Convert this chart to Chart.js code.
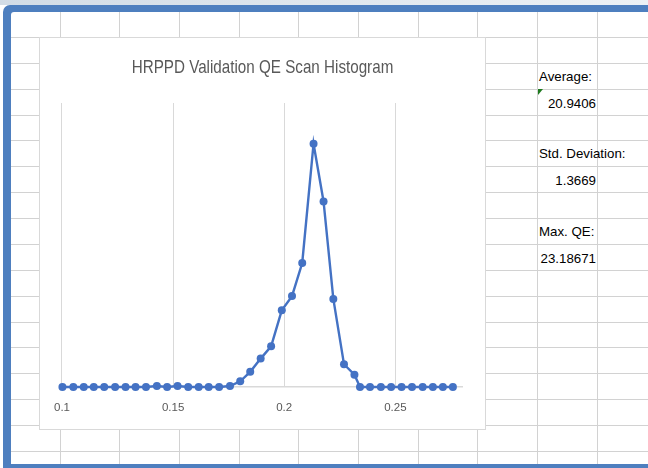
<!DOCTYPE html>
<html>
<head>
<meta charset="utf-8">
<script src="https://cdn.jsdelivr.net/npm/chart.js@4.4.1/dist/chart.umd.min.js"></script>
<style>
    body { margin: 0; width: 648px; height: 468px; overflow: hidden; position: relative; background: #fff; }
    #topStrip { position: absolute; left: 0; top: 0; width: 648px; height: 5px; background: linear-gradient(to right, #d2dce6, #edf1f5); }
    #frame { position: absolute; left: 3px; top: 5px; width: 645px; height: 463px; background: #4e7fbf; border-top-left-radius: 7px; }
    #sheet { position: absolute; left: 11px; top: 12px; width: 637px; height: 452px; background: #fff; border-top-left-radius: 3px; overflow: hidden; }
    .hline { position: absolute; height: 1px; background: #d2d2d2; }
    .vline { position: absolute; width: 1px; background: #d2d2d2; }
    .cell { position: absolute; font-family: "Liberation Sans", Arial, sans-serif; font-size: 13.3px; color: #000; white-space: nowrap; line-height: 26px; height: 26px; }
    .flag { position: absolute; width: 0; height: 0; border-top: 6px solid #1f7a1f; border-right: 5px solid transparent; }
    #chartBox { position: absolute; left: 39px; top: 37px; width: 447px; height: 393px; box-sizing: border-box; border: 1px solid #d9d9d9; background: #fff; }
</style>
</head>
<body>
<div id="topStrip"></div>
<div id="frame"></div>
<div id="sheet"></div>
<div id="chartBox"><canvas id="qeChart"></canvas></div>
<script>
const qeBins = [
    0.1002, 0.1051, 0.1098, 0.1143, 0.1190, 0.1239, 0.1286, 0.1331, 0.1378, 0.1427,
    0.1473, 0.1520, 0.1568, 0.1615, 0.1660, 0.1707, 0.1756, 0.1802, 0.1847, 0.1894,
    0.1941, 0.1989, 0.2035, 0.2081, 0.2132, 0.2177, 0.2221, 0.2269, 0.2316, 0.2341,
    0.2386, 0.2435, 0.2481, 0.2528, 0.2575, 0.2623, 0.2669, 0.2714, 0.2759,
]
const binCounts = [
    0, 0, 0, 0, 0, 0, 0, 0, 0, 1,
    0, 1, 0, 0, 0, 0, 1, 6, 16, 30,
    43, 81, 96, 131, 257, 196, 93, 24, 13, 0,
    0, 0, 0, 0, 0, 0, 0, 0, 0,
]
const xTicks = [0.1, 0.15, 0.2, 0.25]
const chartTitle = 'HRPPD Validation QE Scan Histogram'
const statLabels = ['Average:', 'Std. Deviation:', 'Max. QE:']
const statValues = ['20.9406', '1.3669', '23.18671']

// spreadsheet grid behind the chart
function drawSheet() {
    const sheet = document.getElementById('sheet')
    for (let x = 59.6; x < 648; x += 59.7) {
        const line = document.createElement('div')
        line.className = 'vline'
        line.style.left = Math.round(x - 11) + 'px'
        line.style.top = '0px'
        line.style.height = '452px'
        sheet.appendChild(line)
    }
    for (let y = 36.9; y < 464; y += 25.88) {
        const line = document.createElement('div')
        line.className = 'hline'
        line.style.top = Math.round(y - 12) + 'px'
        line.style.left = '0px'
        line.style.width = '637px'
        sheet.appendChild(line)
    }
    statLabels.forEach((label, i) => {
        const rowTop = 62.8 + i * 3 * 25.88
        const lab = document.createElement('div')
        lab.className = 'cell'
        lab.textContent = label
        lab.style.left = (539 - 11) + 'px'
        lab.style.top = Math.round(rowTop - 12 + 1) + 'px'
        sheet.appendChild(lab)

        const val = document.createElement('div')
        val.className = 'cell'
        val.textContent = statValues[i]
        val.style.right = (637 - (596 - 11)) + 'px'
        val.style.top = Math.round(rowTop + 25.88 - 12 + 2) + 'px'
        sheet.appendChild(val)
    })
    const flag = document.createElement('div')
    flag.className = 'flag'
    flag.style.left = (538 - 11) + 'px'
    flag.style.top = (89 - 12) + 'px'
    sheet.appendChild(flag)
}

// Excel draws the title in a narrow face; squeeze a regular one to match
const narrowTitle = {
    id: 'narrowTitle',
    afterDraw(chart, args, opts) {
        const ctx = chart.ctx
        ctx.save()
        ctx.font = `${opts.size}px ${opts.family}`
        ctx.fillStyle = opts.color
        ctx.textAlign = 'center'
        ctx.textBaseline = 'middle'
        ctx.translate(chart.width / 2, opts.y)
        ctx.scale(opts.squeeze, 1)
        ctx.fillText(opts.text, 0, 0)
        ctx.restore()
    },
}

function drawHistogram() {
    const ctx = document.getElementById('qeChart').getContext('2d')

    new Chart(ctx, {
        type: 'scatter',
        data: {
            datasets: [{
                data: qeBins.map((x, i) => ({ x, y: binCounts[i] })),
                showLine: true,
                borderColor: '#4472c4',
                backgroundColor: '#4472c4',
                borderWidth: 2.4,
                pointRadius: 4,
                pointBorderWidth: 0,
                tension: 0,
                clip: false,
            }],
        },
        plugins: [narrowTitle],
        options: {
            responsive: true,
            maintainAspectRatio: false,
            animation: false,
            layout: { padding: { left: 20, right: 23, top: 65, bottom: 0 } },
            plugins: {
                legend: { display: false },
                tooltip: { enabled: false },
                title: { display: false },
                narrowTitle: {
                    text: chartTitle,
                    color: '#595959',
                    family: '"Liberation Sans", Arial, sans-serif',
                    size: 19,
                    squeeze: 0.8,
                    y: 30,
                },
            },
            scales: {
                x: {
                    type: 'linear',
                    min: 0.1,
                    max: 0.28,
                    afterBuildTicks: scale => { scale.ticks = xTicks.map(value => ({ value })) },
                    afterFit: scale => { scale.height = 42 },
                    ticks: {
                        color: '#595959',
                        font: { family: '"Liberation Sans", Arial, sans-serif', size: 11.5 },
                        padding: 14,
                        maxRotation: 0,
                        callback: value => String(value),
                    },
                    grid: { color: '#d9d9d9', lineWidth: 1, drawTicks: false },
                    border: { color: '#d9d9d9', width: 1.5 },
                },
                y: {
                    display: false,
                    min: 0,
                    max: 300,
                },
            },
        },
    })
}

drawSheet()
drawHistogram()
</script>
</body>
</html>
